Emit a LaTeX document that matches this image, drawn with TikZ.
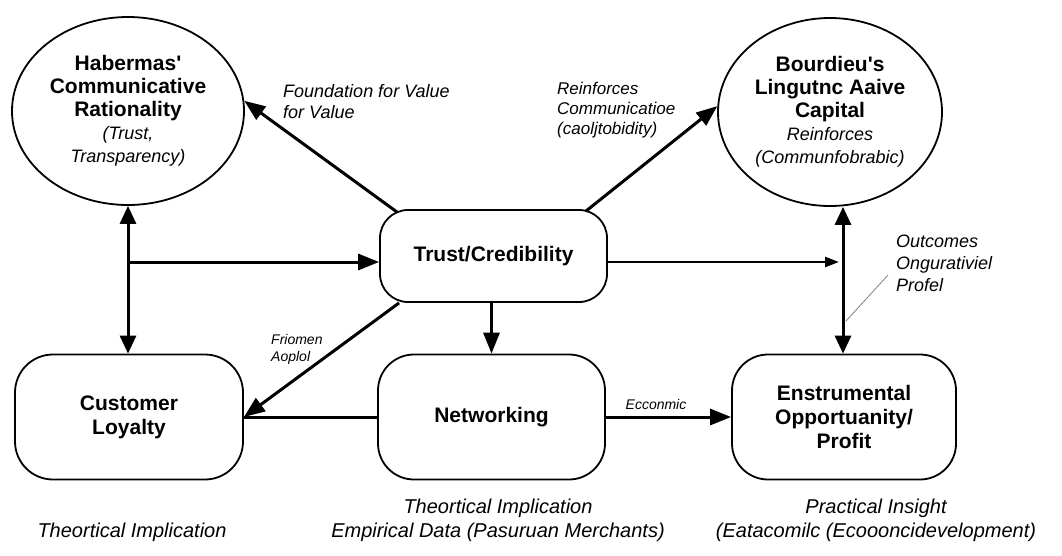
\documentclass[tikz,border=0pt]{standalone}
\usepackage{fontspec}
\setmainfont{Liberation Sans}
\usetikzlibrary{shapes.geometric,arrows.meta}

\newcommand{\boxfont}{\fontsize{21}{24}\selectfont\bfseries}
\newcommand{\subfont}{\fontsize{18}{22}\selectfont\mdseries\itshape}

\begin{document}
\begin{tikzpicture}[
    x=1pt, y=-1pt,
    concept/.style={ellipse, draw, line width=1.8pt, minimum width=232pt, minimum height=188pt, align=center, inner sep=0pt, font=\fontsize{21}{23}\selectfont},
    block/.style={rectangle, draw, line width=1.8pt, rounded corners=36pt, minimum width=227pt, minimum height=125pt, align=center, font=\boxfont},
    note/.style={font=\fontsize{18}{21}\selectfont\itshape, align=left, inner sep=0pt},
    small/.style={font=\fontsize{14}{17}\selectfont\itshape, align=left, inner sep=0pt},
    caption/.style={font=\fontsize{20}{24}\selectfont\itshape, align=center, inner sep=0pt},
    link/.style={line width=3pt, -{Triangle[length=21pt,width=16pt]}},
    twoway/.style={line width=3pt, {Triangle[length=18pt,width=16pt]}-{Triangle[length=18pt,width=16pt]}},
    thin link/.style={line width=2.4pt, -{Triangle[length=14pt,width=10pt]}},
    leader/.style={gray, line width=0.8pt}
]
    \useasboundingbox (0,0) rectangle (1062,555);

    % Theory nodes
    \node[concept] (habermas) at (128,111) {\boxfont Habermas\textquotesingle\\\boxfont Communicative\\\boxfont Rationality\\\subfont (Trust,\\\subfont Transparency)};
    \node[concept, minimum width=224pt] (bourdieu) at (830,112) {\boxfont Bourdieu\textquotesingle s\\\boxfont Lingutnc Aaive\\\boxfont Capital\\\subfont Reinforces\\\subfont (Communfobrabic)};

    % Core nodes
    \node[block, rounded corners=28pt, minimum height=92pt] (trust) at (493.5,256) {Trust/Credibility};
    \node[block, rounded corners=38pt, minimum width=228pt] (loyalty) at (129,417) {Customer\\Loyalty};
    \node[block] (network) at (491.5,417) {Networking};
    \node[block, minimum width=224pt] (profit) at (844,417) {Enstrumental\\Opportuanity/\\Profit};

    % Junction points
    \coordinate (hub) at (128,262);
    \coordinate (rjoin) at (843,262);
    \coordinate (tick) at (846,321);

    % Connections
    \draw[twoway] (habermas.south) -- (habermas.south |- loyalty.north);
    \draw[link] (hub) -- (hub -| trust.west);
    \draw[link] ([shift={(18,3)}]trust.north west) -- (habermas.5);
    \draw[link] ([shift={(-22,2)}]trust.north east) -- (bourdieu.177);
    \draw[thin link, shorten >=4pt] (trust.east |- rjoin) -- (rjoin);
    \draw[twoway] (profit.north -| rjoin) -- (bourdieu.south -| rjoin);
    \draw[link] (trust.south -| network.north) -- (network.north);
    \draw[link] ([shift={(20,0)}]trust.south west) -- (loyalty.east);
    \draw[line width=3pt] (network.west) -- (loyalty.east);
    \draw[link] (network.east) -- (profit.west);

    % Labels
    \node[note, anchor=west] (found) at (283,102) {Foundation for Value\\for Value};
    \node[note, font=\fontsize{17}{20}\selectfont\itshape, anchor=west] (reinf) at (557,110) {Reinforces\\Communicatioe\\(caoljtobidity)};
    \node[note, font=\fontsize{18}{22}\selectfont\itshape, anchor=west] (outcomes) at (896,263) {Outcomes\\Ongurativiel\\Profel};
    \draw[leader] ([shift={(-8,12)}]outcomes.west) -- (tick);
    \node[small, anchor=west] (friomen) at (271,349) {Friomen\\Aoplol};
    \node[small] (econ) at (656,404) {Ecconmic};

    % Bottom captions
    \node[caption] (theo) at (132,532) {Theortical Implication};
    \node[caption] (empirical) at (498,520) {Theortical Implication\\Empirical Data (Pasuruan Merchants)};
    \node[caption] (insight) at (876,520) {Practical Insight\\(Eatacomilc (Ecoooncidevelopment)};
\end{tikzpicture}
\end{document}
